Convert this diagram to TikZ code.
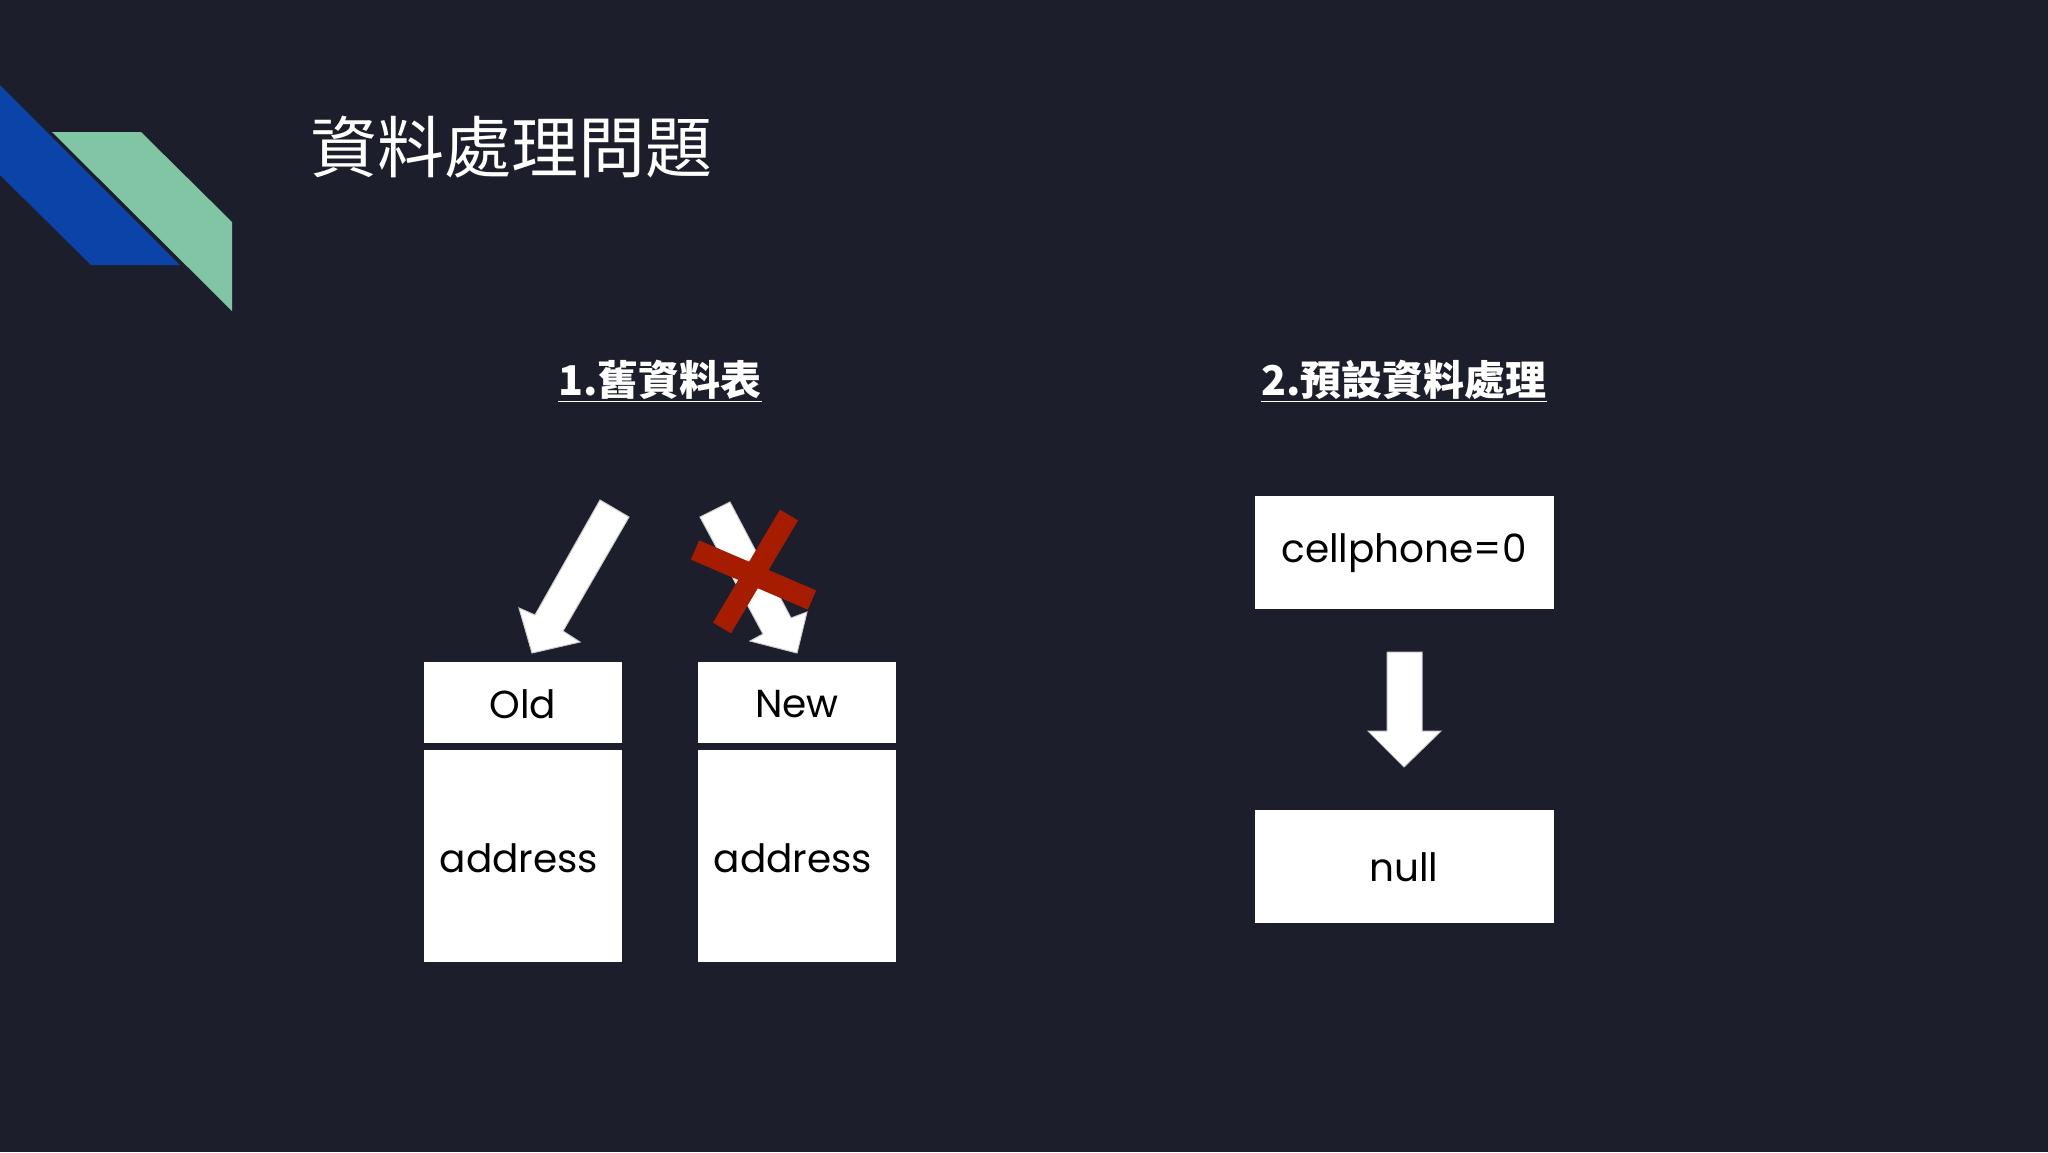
\documentclass[tikz,border=0pt]{standalone}
\usepackage{fontspec}
\setmainfont{Poppins}
\newfontfamily\cjk{Noto Sans CJK TC}
\definecolor{bg}{HTML}{1C1F2B}
\definecolor{dblue}{HTML}{0B43A8}
\definecolor{mgreen}{HTML}{81C6A4}
\definecolor{xred}{HTML}{A51C00}
\begin{document}
\begin{tikzpicture}[x=1pt,y=-1pt,
  lbl/.style={text=black,font=\fontsize{39}{44}\selectfont},
  head/.style={text=white,font=\cjk\bfseries\fontsize{41}{46}\selectfont}]
\fill[bg] (0,0) rectangle (2048,1152);
\useasboundingbox (0,0) rectangle (2048,1152);
% decoration
\fill[dblue] (0,85) -- (180,265) -- (91,265) -- (0,175) -- cycle;
\fill[mgreen] (52,132) -- (141,132) -- (232,222) -- (232,311) -- cycle;
% title
\node[anchor=west,text=white,font=\cjk\fontsize{67}{72}\selectfont] (title) at (307,147) {資料處理問題};
% headings
\node[head] (h1) at (660,381) {\underline{1.舊資料表}};
\node[head] (h2) at (1404,381) {\underline{2.預設資料處理}};
% left boxes
\fill[white] (424,662) rectangle (622,743);
\fill[white] (424,750) rectangle (622,962);
\fill[white] (698,662) rectangle (896,743);
\fill[white] (698,750) rectangle (896,962);
\node[lbl] (old) at (523,704) {Old};
\node[lbl] (oadd) at (519,858) {address};
\node[lbl] (new) at (797,704) {New};
\node[lbl] (nadd) at (793,858) {address};
% arrows
\fill[white,draw=gray!40,line width=1pt] (600,500) -- (629,517) -- (563,631) -- (580,642) -- (532,653) -- (519,608) -- (535,615) -- cycle;
\fill[white,draw=gray!40,line width=1pt] (730,502) -- (700,517) -- (763,634) -- (750,641) -- (797,653) -- (807,612) -- (791,618) -- cycle;
% red X
\draw[xred,line width=21pt] (695,550) -- (812,600);
\draw[xred,line width=21pt] (789,515) -- (722,628);
% right side
\fill[white] (1255,496) rectangle (1554,609);
\node[lbl] (cp) at (1404,553) {cellphone=0};
\fill[white] (1255,810) rectangle (1554,923);
\node[lbl] (nl) at (1404,867) {null};
\fill[white,draw=gray!40,line width=1pt] (1387,652) -- (1422,652) -- (1422,731) -- (1441,731) -- (1404,767) -- (1368,731) -- (1387,731) -- cycle;
\end{tikzpicture}
\end{document}
